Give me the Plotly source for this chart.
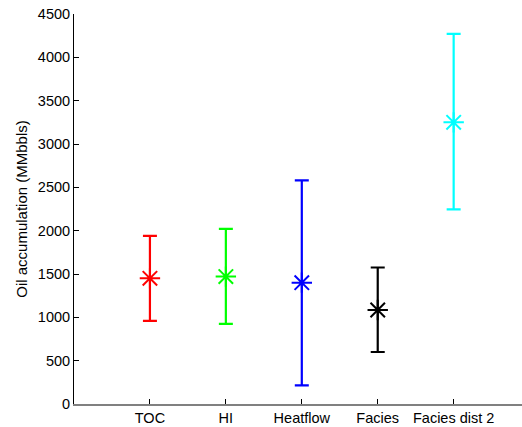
import plotly.graph_objects as go

# Oil accumulation estimates (MMbbls) per sensitivity case
categories = ["TOC", "HI", "Heatflow", "Facies", "Facies dist 2"]
mean_values = [1450, 1470, 1400, 1085, 3250]
upper_values = [1940, 2020, 2580, 1575, 4270]
lower_values = [960, 925, 215, 600, 2245]
colors = ["#ff0000", "#00ff00", "#0000ff", "#000000", "#00ffff"]
y_ticks = [0, 500, 1000, 1500, 2000, 2500, 3000, 3500, 4000, 4500]

positions = list(range(1, len(categories) + 1))

fig = go.Figure()
for pos, mean, hi, lo, col in zip(positions, mean_values, upper_values, lower_values, colors):
    fig.add_trace(go.Scatter(
        x=[pos], y=[mean],
        mode="markers",
        marker=dict(symbol="asterisk-open", size=17, color=col,
                    line=dict(color=col, width=2)),
        error_y=dict(type="data", symmetric=False,
                     array=[hi - mean], arrayminus=[mean - lo],
                     color=col, thickness=2.2, width=7),
        showlegend=False,
        hoverinfo="skip",
    ))

tick_font = dict(family="Liberation Sans, Arial, sans-serif", size=14.5, color="#000000")
title_font = dict(family="Liberation Sans, Arial, sans-serif", size=15, color="#000000")

fig.update_layout(
    width=522, height=427,
    margin=dict(l=74, r=0, t=14, b=23),
    paper_bgcolor="white", plot_bgcolor="white",
    font=tick_font,
    xaxis=dict(
        range=[0, 5.9],
        tickmode="array", tickvals=positions, ticktext=categories,
        ticks="inside", ticklen=5, tickcolor="#000000", tickwidth=1,
        showline=True, linecolor="#808080", linewidth=2,
        showgrid=False, zeroline=False,
        tickfont=tick_font,
    ),
    yaxis=dict(
        range=[0, 4500],
        tickmode="array", tickvals=y_ticks,
        ticks="inside", ticklen=5, tickcolor="#000000", tickwidth=1,
        showline=True, linecolor="#000000", linewidth=1,
        showgrid=False, zeroline=False,
        tickfont=tick_font,
        title=dict(text="Oil accumulation (MMbbls)", font=title_font, standoff=6),
    ),
)

fig.write_html("out.html")
